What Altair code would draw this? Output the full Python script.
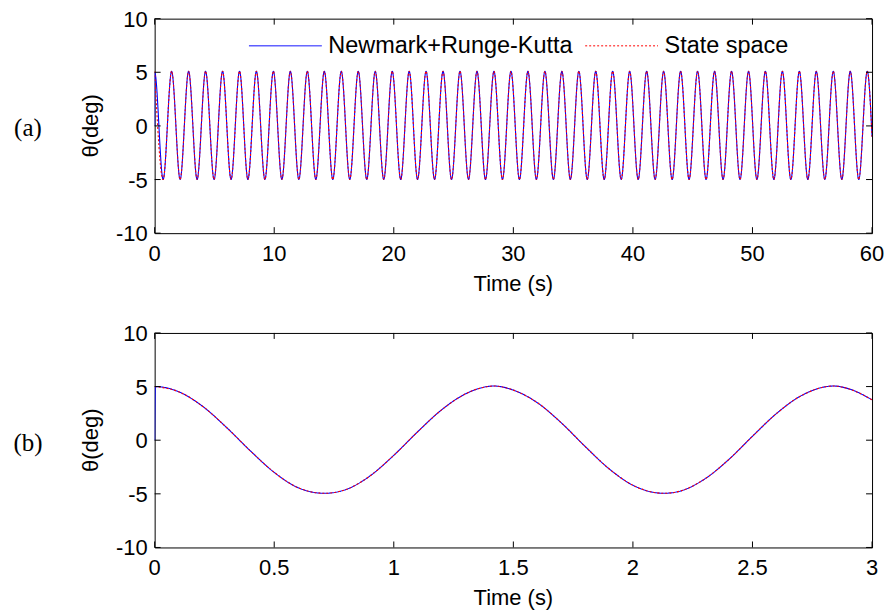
import altair as alt
import pandas as pd

series_names = ["Newmark+Runge-Kutta", "State space"]
series_colors = ["#0000ff", "#ff0000"]
series_dash = [[1, 0], [2, 2]]
panel_labels = ["(a)", "(b)"]
axis_titles = ["Time (s)", "θ(deg)"]
y_ticks = [-10, -5, 0, 5, 10]
x_ticks_a = [0, 10, 20, 30, 40, 50, 60]
x_ticks_b = [0, 0.5, 1, 1.5, 2, 2.5, 3]

# Panel (a): peak / trough instants (0-60 s)
a_time = [0, 0.71, 1.42, 2.13, 2.84, 3.55, 4.26, 4.97, 5.68, 6.39,
          7.10, 7.80, 8.51, 9.22, 9.93, 10.64, 11.35, 12.06, 12.77, 13.48,
          14.19, 14.90, 15.61, 16.32, 17.03, 17.74, 18.45, 19.16, 19.87, 20.58,
          21.29, 21.99, 22.70, 23.41, 24.12, 24.83, 25.54, 26.25, 26.96, 27.67,
          28.38, 29.09, 29.80, 30.51, 31.22, 31.93, 32.64, 33.35, 34.06, 34.77,
          35.48, 36.18, 36.89, 37.60, 38.31, 39.02, 39.73, 40.44, 41.15, 41.86,
          42.57, 43.28, 43.99, 44.70, 45.41, 46.12, 46.83, 47.54, 48.25, 48.96,
          49.67, 50.37, 51.08, 51.79, 52.50, 53.21, 53.92, 54.63, 55.34, 56.05,
          56.76, 57.47, 58.18, 58.89, 59.60, 60.0]
a_theta = [5.1, -5.0, 5.1, -5.0, 5.1, -5.0, 5.1, -5.0, 5.1, -5.0,
           5.1, -5.0, 5.1, -5.0, 5.1, -5.0, 5.1, -5.0, 5.1, -5.0,
           5.1, -5.0, 5.1, -5.0, 5.1, -5.0, 5.1, -5.0, 5.1, -5.0,
           5.1, -5.0, 5.1, -5.0, 5.1, -5.0, 5.1, -5.0, 5.1, -5.0,
           5.1, -5.0, 5.1, -5.0, 5.1, -5.0, 5.1, -5.0, 5.1, -5.0,
           5.1, -5.0, 5.1, -5.0, 5.1, -5.0, 5.1, -5.0, 5.1, -5.0,
           5.1, -5.0, 5.1, -5.0, 5.1, -5.0, 5.1, -5.0, 5.1, -5.0,
           5.1, -5.0, 5.1, -5.0, 5.1, -5.0, 5.1, -5.0, 5.1, -5.0,
           5.1, -5.0, 5.1, -5.0, 5.1, -1.0]

# Panel (b): values read from the zoomed 0-3 s window
b_time = [0, 0.1, 0.2, 0.3, 0.4, 0.5, 0.6, 0.71, 0.8, 0.9,
          1.0, 1.1, 1.2, 1.3, 1.42, 1.5, 1.6, 1.7, 1.8, 1.9,
          2.0, 2.13, 2.2, 2.3, 2.4, 2.5, 2.6, 2.7, 2.84, 2.9, 3.0]
b_theta = [5.0, 4.52, 3.17, 1.20, -0.99, -3.00, -4.43, -4.95, -4.60, -3.34,
           -1.41, 0.79, 2.83, 4.32, 5.05, 4.67, 3.50, 1.63, -0.58, -2.66,
           -4.20, -4.95, -4.73, -3.62, -1.82, 0.37, 2.48, 4.10, 5.05, 4.81, 3.77]

# Newmark+Runge-Kutta starts from 0 and jumps to the initial amplitude
blue_start_time = [0.0, 0.003]
blue_start_theta = [0.0, 5.0]


def make_df(times, thetas):
    bt = blue_start_time + times[1:]
    bv = blue_start_theta + thetas[1:]
    return pd.DataFrame({
        "t": bt + times,
        "theta": bv + thetas,
        "series": [series_names[0]] * len(bt) + [series_names[1]] * len(times),
    })


W, H = 719, 215
FONT = "Liberation Sans"
FS = 22


def panel(df, xt, xdomain, label, show_legend):
    xscale = alt.Scale(domain=xdomain, nice=False, zero=False)
    yscale = alt.Scale(domain=[-10, 10], nice=False)
    if show_legend:
        leg = alt.Legend(orient="none", legendX=94, legendY=-10, direction="horizontal",
                         title=None, symbolType="stroke", symbolSize=5329,
                         symbolStrokeWidth=1, labelFontSize=23.5, labelFont=FONT,
                         labelColor="black", labelOffset=6, columnPadding=10,
                         labelLimit=500, padding=0)
    else:
        leg = None
    color = alt.Color("series:N", scale=alt.Scale(domain=series_names, range=series_colors), legend=leg)
    dash = alt.StrokeDash("series:N", scale=alt.Scale(domain=series_names, range=series_dash), legend=leg)

    lines = alt.Chart(df).mark_line(strokeWidth=1.1, interpolate="monotone", clip=True).encode(
        x=alt.X("t:Q", scale=xscale, axis=None),
        y=alt.Y("theta:Q", scale=yscale, axis=None),
        color=color,
        strokeDash=dash,
    )
    xt_df = pd.DataFrame({"v": xt, "lab": [f"{v:g}" for v in xt]})
    yt_df = pd.DataFrame({"v": y_ticks, "lab": [f"{v:g}" for v in y_ticks]})
    xenc = alt.X("v:Q", scale=xscale, axis=None)
    yenc = alt.Y("v:Q", scale=yscale, axis=None)
    tb = alt.Chart(xt_df).mark_rule(color="black", strokeWidth=1).encode(
        x=xenc, y=alt.value(H), y2=alt.value(H - 6))
    tt = alt.Chart(xt_df).mark_rule(color="black", strokeWidth=1).encode(
        x=xenc, y=alt.value(0), y2=alt.value(6))
    tl = alt.Chart(yt_df).mark_rule(color="black", strokeWidth=1).encode(
        y=yenc, x=alt.value(0), x2=alt.value(6))
    tr = alt.Chart(yt_df).mark_rule(color="black", strokeWidth=1).encode(
        y=yenc, x=alt.value(W), x2=alt.value(W - 6))
    xl = alt.Chart(xt_df).mark_text(font=FONT, fontSize=FS, align="center",
                                    baseline="alphabetic", color="black").encode(
        x=xenc, y=alt.value(H + 28), text="lab:N")
    yl = alt.Chart(yt_df).mark_text(font=FONT, fontSize=FS, align="right",
                                    baseline="alphabetic", dy=8, color="black").encode(
        y=yenc, x=alt.value(-7), text="lab:N")
    xtitle = alt.Chart(pd.DataFrame({"lab": [axis_titles[0]]})).mark_text(
        font=FONT, fontSize=FS, align="center", baseline="alphabetic", color="black"
    ).encode(text="lab:N", x=alt.value(W / 2), y=alt.value(H + 58))
    ytitle = alt.Chart(pd.DataFrame({"lab": [axis_titles[1]]})).mark_text(
        font=FONT, fontSize=FS, align="center", baseline="alphabetic", angle=270, color="black"
    ).encode(text="lab:N", x=alt.value(-57), y=alt.value(H / 2))
    lab = alt.Chart(pd.DataFrame({"lab": [label]})).mark_text(
        font="Liberation Serif", fontSize=25, align="center", baseline="alphabetic", color="black"
    ).encode(text="lab:N", x=alt.value(-127), y=alt.value(118))
    return alt.layer(lines, tb, tt, tl, tr, xl, yl, xtitle, ytitle, lab).properties(width=W, height=H)


pa = panel(make_df(a_time, a_theta), x_ticks_a, [0, 60], panel_labels[0], True)
pb = panel(make_df(b_time, b_theta), x_ticks_b, [0, 3], panel_labels[1], False)

chart = alt.vconcat(pa, pb, spacing=100, bounds="flush").resolve_scale(
    x="independent", color="independent", strokeDash="independent"
).properties(
    padding={"left": 12, "top": 7, "right": 6, "bottom": 4},
    background="white",
).configure_view(stroke="black", strokeWidth=1)

chart.save("out.html", embed_options={"renderer": "svg", "actions": False})
